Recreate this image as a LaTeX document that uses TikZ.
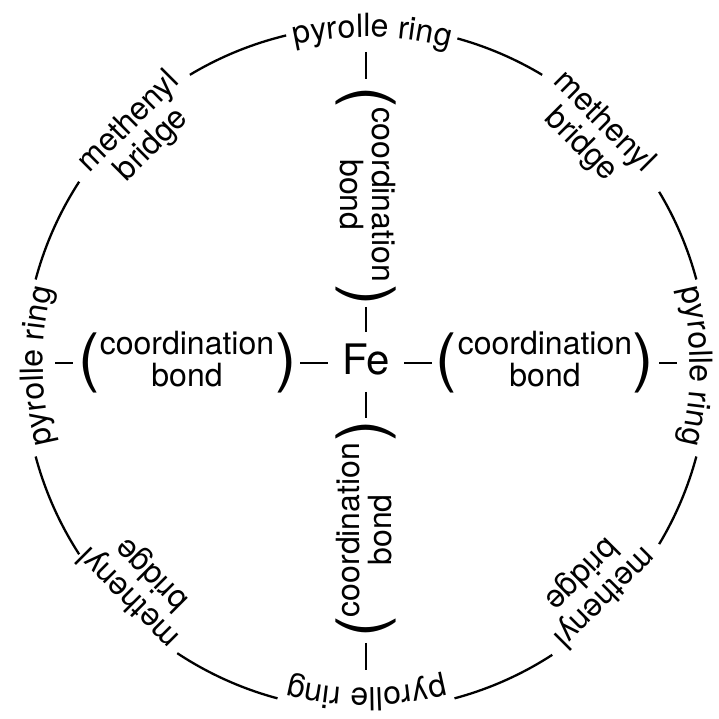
\documentclass[tikz,border=0pt]{standalone}
\usepackage{fontspec}
\setmainfont{TeX Gyre Heros}
\usetikzlibrary{decorations.text}
\newcommand\lblfont{\fontsize{32}{32}\selectfont}
\newcommand\parfont{\fontsize{64}{64}\selectfont}
\newcommand\fefont{\fontsize{42}{42}\selectfont}
\begin{document}
\begin{tikzpicture}[x=1pt,y=1pt,
  lbl/.style={font=\lblfont, align=center, inner sep=0pt},
  par/.style={font=\parfont, inner sep=0pt},
  wire/.style={line width=2pt},
  ring/.style={line width=2.3pt},
  ringtext/.style={decorate, decoration={text along path, text={|\lblfont|pyrolle ring}, text align=center}}]
\useasboundingbox (0,0) rectangle (719,719);
\coordinate (Cc) at (366,351);
\coordinate (Ct) at (366.5,359.5);
\coordinate (Cr) at (366.5,353);
% circle arcs
\foreach \a/\b in {15/31,59/74.5,103.5/121,147/165,195/213,236.5/255,285/303,329/345}
  \draw[ring] ([shift={(\a:342)}]Cc) arc[start angle=\a, end angle=\b, radius=342];
% pyrolle ring labels
\path[ringtext] ([shift={(109:329)}]Cr) arc[start angle=109, end angle=69, radius=329];
\path[ringtext] ([shift={(20:323.5)}]Cr) arc[start angle=20, end angle=-20, radius=323.5];
\path[ringtext] ([shift={(290:322)}]Cr) arc[start angle=290, end angle=250, radius=322];
\path[ringtext] ([shift={(200:323.5)}]Cr) arc[start angle=200, end angle=160, radius=323.5];
\coordinate (ringT) at (366,692);
\coordinate (ringB) at (366,27);
\coordinate (ringL) at (34,356);
\coordinate (ringR) at (700,356);
% methenyl bridges
\node[lbl, rotate=45] (methTL) at ([shift={(135:319)}]Ct) {methenyl\\bridge};
\node[lbl, rotate=-45] (methTR) at ([shift={(45:319)}]Ct) {methenyl\\bridge};
\node[lbl, rotate=135] (methBL) at ([shift={(225:319)}]Ct) {methenyl\\bridge};
\node[lbl, rotate=225] (methBR) at ([shift={(315:319)}]Ct) {methenyl\\bridge};
% iron
\node[font=\fefont, inner sep=0pt, text depth=8pt] (Fe) at (366,356) {Fe};
% left group
\node[par] (openL) at (89,356) {(};
\node[lbl] (textL) at (187,360) {coordination\\bond};
\node[par] (closeL) at (286,356) {)};
% right group
\node[par] (openR) at (446,356) {(};
\node[lbl] (textR) at (545,360) {coordination\\bond};
\node[par] (closeR) at (643,356) {)};
% top group
\node[par, rotate=-90] (openT) at (366,622) {(};
\node[lbl, rotate=-90] (textT) at (368,524) {coordination\\bond};
\node[par, rotate=-90] (closeT) at (366,424) {)};
% bottom group
\node[par, rotate=90] (openB) at (366,92) {(};
\node[lbl, rotate=90] (textB) at (364,189) {coordination\\bond};
\node[par, rotate=90] (closeB) at (366,288) {)};
% connectors
\draw[wire, shorten <=21pt, shorten >=16pt] (ringL) -- (openL.center);
\draw[wire, shorten <=14pt, shorten >=38pt] (closeL.center) -- (Fe.center);
\draw[wire, shorten <=38pt, shorten >=14pt] (Fe.center) -- (openR.center);
\draw[wire, shorten <=16pt, shorten >=23pt] (closeR.center) -- (ringR);
\draw[wire, shorten <=25pt, shorten >=18pt] (ringT) -- (openT.center);
\draw[wire, shorten <=12pt, shorten >=31pt] (closeT.center) -- (Fe.center);
\draw[wire, shorten <=29pt, shorten >=13pt] (Fe.center) -- (closeB.center);
\draw[wire, shorten <=16pt, shorten >=22pt] (openB.center) -- (ringB);
\end{tikzpicture}
\end{document}
